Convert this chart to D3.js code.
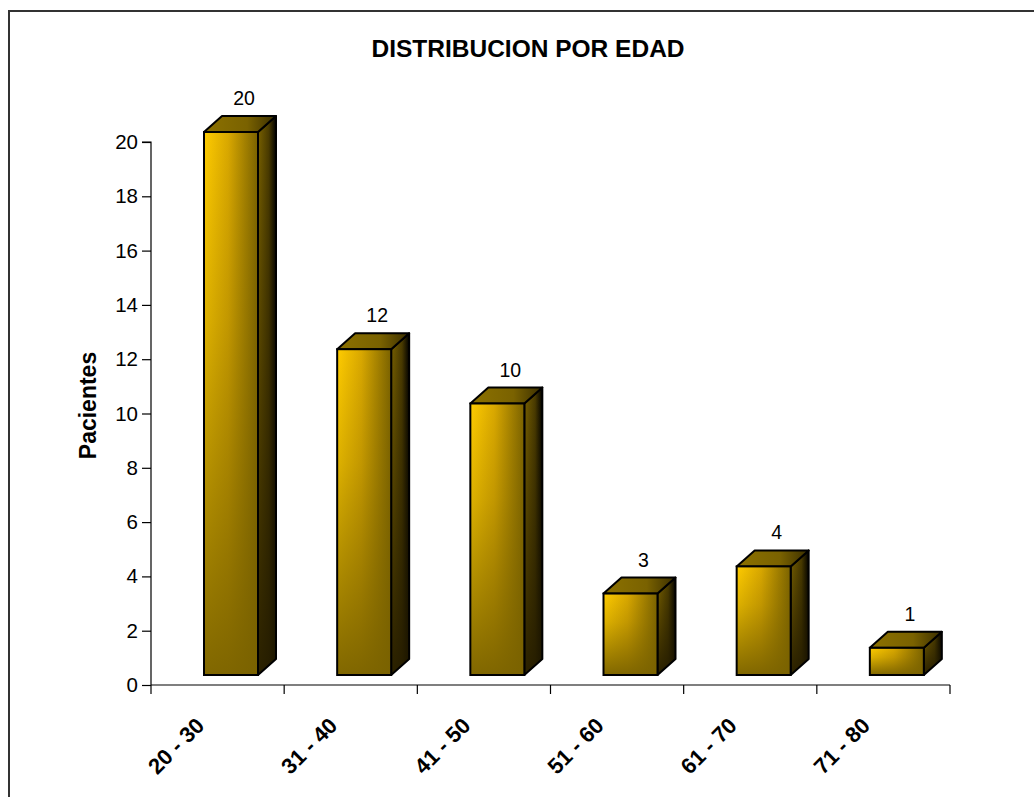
<!DOCTYPE html>
<html>
<head>
<meta charset="utf-8">
<script src="https://cdn.jsdelivr.net/npm/d3@7"></script>
<style>
  html, body { margin: 0; padding: 0; background: #fff; }
  svg { display: block; }
  text { font-family: Arial, "Liberation Sans", sans-serif; }
</style>
</head>
<body>
<div id="chart"></div>
<script>
// Age groups and number of patients in each
const categories = ["20 - 30", "31 - 40", "41 - 50", "51 - 60", "61 - 70", "71 - 80"];
const patients = [20, 12, 10, 3, 4, 1];
const yTicks = [0, 2, 4, 6, 8, 10, 12, 14, 16, 18, 20];
const titleText = "DISTRIBUCION POR EDAD";
const yTitle = "Pacientes";

const W = 1034, H = 797;
const svg = d3.select("#chart").append("svg").attr("width", W).attr("height", H);

// chart frame
svg.append("rect").attr("x", 9).attr("y", 11).attr("width", W + 20).attr("height", H + 20)
  .attr("fill", "#fff").attr("stroke", "#333").attr("stroke-width", 2);

const plot = { left: 151, right: 950, top: 142, bottom: 685 };
const x = d3.scaleBand().domain(categories).range([plot.left, plot.right]).padding(0);
const y = d3.scaleLinear().domain([0, 20]).range([plot.bottom, plot.top]);

// gradients for the 3D box faces
const defs = svg.append("defs");
function lin(id, x1, y1, x2, y2, stops) {
  const g = defs.append("linearGradient").attr("id", id)
    .attr("x1", x1).attr("y1", y1).attr("x2", x2).attr("y2", y2);
  stops.forEach(s => g.append("stop").attr("offset", s[0]).attr("stop-color", s[1])
    .attr("stop-opacity", s[2] === undefined ? 1 : s[2]));
}
lin("frontH", 0, 0, 1, 0, [[0, "#ffcc00"], [0.45, "#d9a800"], [1, "#7a6200"]]);
lin("frontV", 0, 0, 0, 1, [[0, "#7a6200", 0], [0.35, "#7a6200", 0.25], [1, "#7a6200", 0.95]]);
lin("sideH", 0, 0, 1, 0, [[0, "#7a6200"], [0.6, "#4a3b00"], [1, "#000000"]]);
lin("sideV", 0, 0, 0, 1, [[0, "#221a00", 0], [1, "#221a00", 0.9]]);
lin("topG", 0, 0, 1, 0, [[0, "#8c7100"], [0.6, "#7a6200"], [1, "#3a2e00"]]);

// y axis
const yAxis = d3.axisLeft(y).tickValues(yTicks).tickSize(9).tickPadding(4).tickFormat(d3.format("d"));
const gy = svg.append("g").attr("transform", `translate(${plot.left},0)`).call(yAxis);
gy.select(".domain").attr("stroke", "#000").attr("stroke-width", 1.2).attr("d", `M-9,${plot.top}H0V${plot.bottom}`);
gy.selectAll(".tick line").attr("stroke", "#000").attr("stroke-width", 1.2);
gy.selectAll(".tick text").attr("font-size", 20.5).attr("fill", "#000")
  .style("font-family", "Arial, 'Liberation Sans', sans-serif");

// x axis with ticks on category boundaries
const edges = categories.map(c => x(c)).concat([plot.right]);
svg.append("line").attr("x1", plot.left).attr("x2", plot.right)
  .attr("y1", plot.bottom).attr("y2", plot.bottom).attr("stroke", "#000").attr("stroke-width", 1.2);
svg.append("g").selectAll("line").data(edges).join("line")
  .attr("x1", d => d).attr("x2", d => d)
  .attr("y1", plot.bottom).attr("y2", plot.bottom + 9)
  .attr("stroke", "#000").attr("stroke-width", 1.2);

svg.append("g").selectAll("text").data(categories).join("text")
  .attr("transform", d => `translate(${x(d) + x.bandwidth() / 2 - 12},${plot.bottom + 42}) rotate(-45)`)
  .attr("text-anchor", "end")
  .attr("font-size", 22).attr("font-weight", "bold").attr("fill", "#000")
  .text(d => d);

// 3D bars
const lift = 10, depthX = 18, depthY = -16, frontW = 54, inset = 53;
const bars = svg.append("g").selectAll("g").data(categories.map((c, i) => ({ c, v: patients[i] }))).join("g");

bars.each(function (d) {
  const g = d3.select(this);
  const x0 = x(d.c) + inset, x1 = x0 + frontW;
  const yt = y(d.v) - lift, yb = y(0) - lift;
  // side face
  const side = `M${x1},${yt}L${x1 + depthX},${yt + depthY}L${x1 + depthX},${yb + depthY}L${x1},${yb}Z`;
  g.append("path").attr("d", side).attr("fill", "url(#sideH)");
  g.append("path").attr("d", side).attr("fill", "url(#sideV)")
    .attr("stroke", "#000").attr("stroke-width", 2).attr("stroke-linejoin", "round");
  // top face
  g.append("path")
    .attr("d", `M${x0},${yt}L${x0 + depthX},${yt + depthY}L${x1 + depthX},${yt + depthY}L${x1},${yt}Z`)
    .attr("fill", "url(#topG)").attr("stroke", "#000").attr("stroke-width", 2).attr("stroke-linejoin", "round");
  // front face
  g.append("rect").attr("x", x0).attr("y", yt).attr("width", frontW).attr("height", yb - yt)
    .attr("fill", "url(#frontH)");
  g.append("rect").attr("x", x0).attr("y", yt).attr("width", frontW).attr("height", yb - yt)
    .attr("fill", "url(#frontV)").attr("stroke", "#000").attr("stroke-width", 2);
  // value label
  g.append("text").attr("x", x0 + frontW / 2 + 13).attr("y", yt + depthY - 11)
    .attr("text-anchor", "middle").attr("font-size", 19.5).attr("fill", "#000")
    .text(d.v);
});

// titles
svg.append("text").attr("x", 528).attr("y", 57).attr("text-anchor", "middle")
  .attr("font-size", 24.5).attr("font-weight", "bold").attr("fill", "#000").text(titleText);
svg.append("text").attr("transform", `translate(96,${(plot.top + plot.bottom) / 2 - 8}) rotate(-90)`)
  .attr("text-anchor", "middle").attr("font-size", 23).attr("font-weight", "bold").attr("fill", "#000")
  .text(yTitle);
</script>
</body>
</html>
